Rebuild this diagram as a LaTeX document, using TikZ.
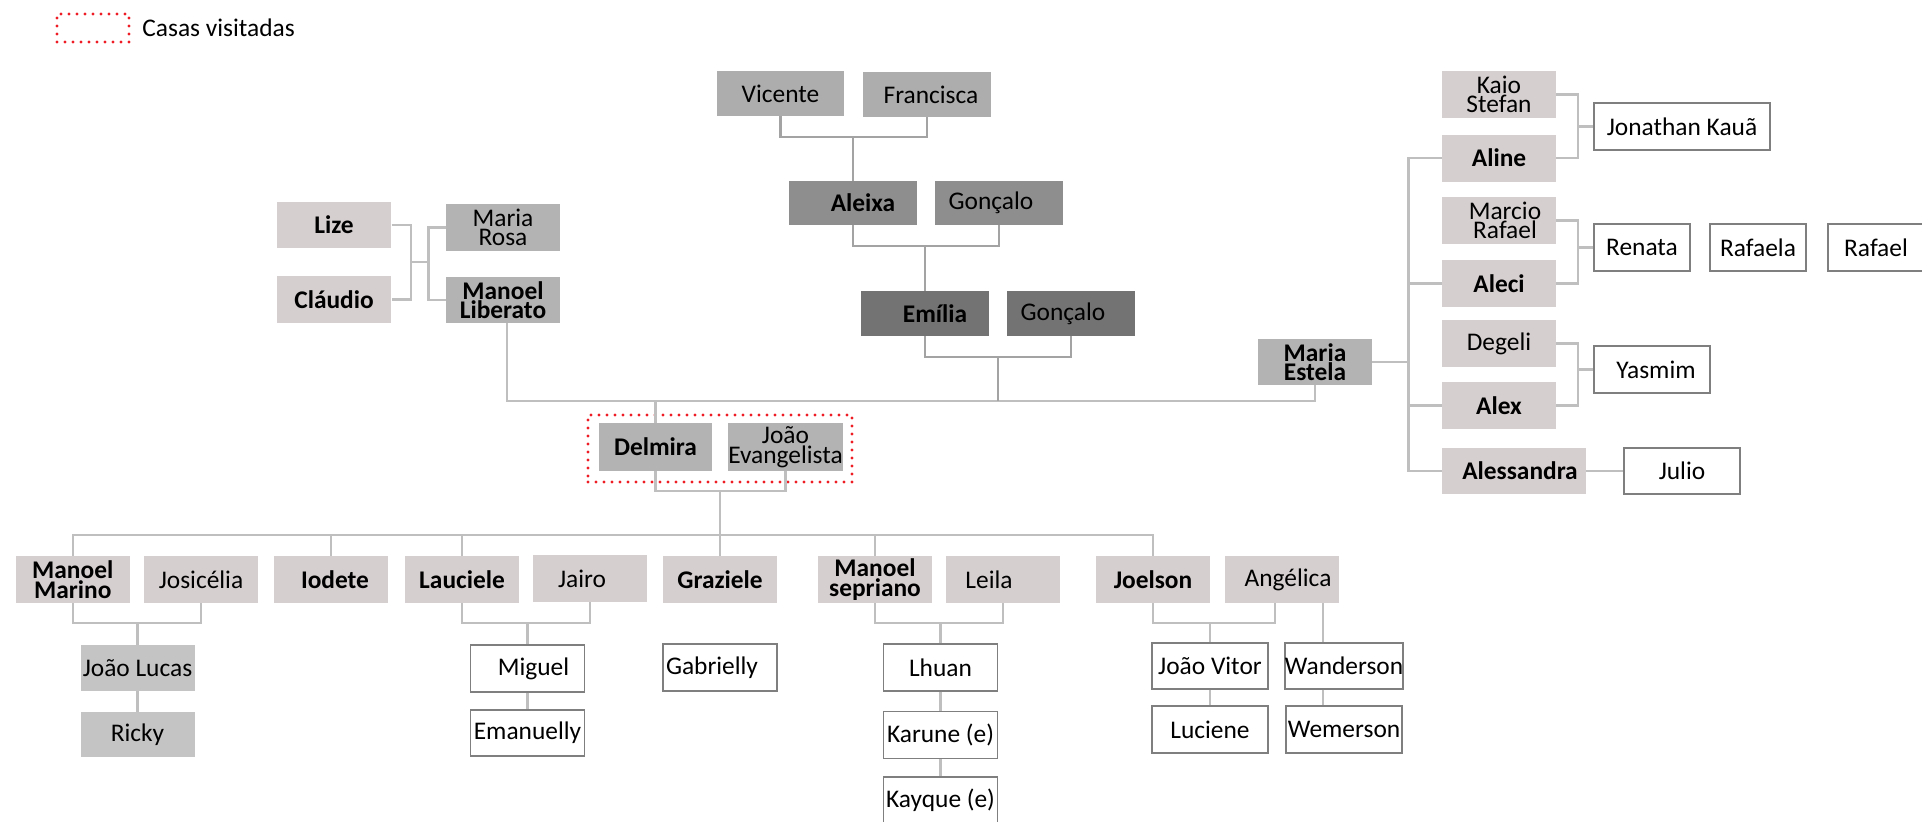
\documentclass[tikz,border=0pt]{standalone}
\usepackage{fontspec}
\setmainfont{Carlito}
\definecolor{pinkgray}{HTML}{D6CFCF}
\definecolor{gB}{HTML}{B3B3B3}
\definecolor{gV}{HTML}{ADADAD}
\definecolor{gA}{HTML}{8E8E8E}
\definecolor{gE}{HTML}{737373}
\definecolor{gJ}{HTML}{C4C4C4}
\definecolor{linegray}{HTML}{BFBFBF}
\definecolor{darkline}{HTML}{A3A3A3}
\definecolor{bordergray}{HTML}{7F7F7F}
\definecolor{dotred}{HTML}{EE1C25}
\begin{document}
\begin{tikzpicture}[x=0.5pt,y=-0.5pt,
  every node/.style={font=\fontsize{12.7}{9.7}\selectfont, align=center, inner sep=0pt, text=black},
  boldtxt/.style={font=\fontsize{12.7}{9.7}\selectfont\bfseries},
  bx/.style={minimum width=57pt, minimum height=23.5pt, anchor=center},
  pk/.style={bx, fill=pinkgray},
  gb/.style={bx, fill=gB},
  wb/.style={bx, fill=white, draw=bordergray, line width=0.7pt},
  ln/.style={draw=linegray, line width=1.25pt},
  dk/.style={draw=darkline, line width=1.3pt},
  dotline/.style={draw=dotred, line width=1.7pt, dash pattern=on 0pt off 4pt, line cap=round}]
\useasboundingbox (0,0) rectangle (1922,821);

% legend
\node[dotline, minimum width=36pt, minimum height=14pt] (leg) at (93,28) {};
\node[anchor=west] (legt) at (142,28) {Casas visitadas};

% left grandparents
\node[pk,boldtxt,minimum width=57.25pt,minimum height=23pt] (lize) at (334,225) {Lize};
\node[pk,boldtxt,minimum width=57.25pt] (claudio) at (334,299.5) {Cláudio};
\node[gb] (mrosa) at (503,227.5) {Maria\\Rosa};
\node[gb,boldtxt,minimum height=23pt] (mlib) at (503,300) {Manoel\\Liberato};

% center ancestors
\node[bx,fill=gV,minimum width=63.5pt,minimum height=22.5pt] (vic) at (780.5,93.5) {Vicente};
\node[bx,fill=gV,minimum width=64pt,minimum height=22.5pt] (fra) at (927,94.5) {\hspace*{4pt}Francisca};
\node[bx,fill=gA,boldtxt,minimum width=64pt,minimum height=22pt] (ale) at (853,203) {\hspace*{10pt}Aleixa};
\node[bx,fill=gA,minimum width=64pt,minimum height=22pt] (gon1) at (999,203) {Gonçalo\hspace*{8pt}};
\node[bx,fill=gE,boldtxt,minimum width=64pt,minimum height=22.5pt] (emi) at (925,313.5) {\hspace*{10pt}Emília};
\node[bx,fill=gE,minimum width=64pt,minimum height=22.5pt] (gon2) at (1071,313.5) {Gonçalo\hspace*{8pt}};

% right family
\node[gb,boldtxt,minimum height=23pt] (mest) at (1315,362) {Maria\\Estela};
\node[pk] (kaio) at (1499,94.5) {Kaio\\Stefan};
\node[pk,boldtxt] (aline) at (1499,158) {Aline};
\node[pk] (marcio) at (1499,220.5) {\hspace*{6pt}Marcio\\\hspace*{6pt}Rafael};
\node[pk,boldtxt] (aleci) at (1499,283.5) {Aleci};
\node[pk] (degeli) at (1499,343.5) {Degeli};
\node[pk,boldtxt] (alex) at (1499,405.5) {Alex};
\node[pk,boldtxt,minimum width=72pt,minimum height=23pt] (aless) at (1514,471) {\hspace*{6pt}Alessandra};
\node[wb,minimum width=88pt] (jon) at (1682,126.5) {Jonathan Kauã};
\node[wb,minimum width=48pt] (renata) at (1642,247.5) {Renata};
\node[wb,minimum width=48pt] (rafaela) at (1758,247.5) {Rafaela};
\node[wb,minimum width=48pt] (rafael) at (1876,247.5) {Rafael};
\node[wb,minimum width=58pt] (yasmim) at (1652,369.5) {\hspace*{4pt}Yasmim};
\node[wb,minimum width=58pt,minimum height=23pt] (julio) at (1682,471) {Julio};

% visited couple
\node[gb,boldtxt,minimum width=56.5pt,minimum height=24pt] (del) at (655.5,447) {Delmira};
\node[gb,minimum width=56.5pt,minimum height=24pt] (je) at (785.5,447) {João\\Evangelista};
\node[dotline,minimum width=132pt,minimum height=33.5pt] (visit) at (720,448.5) {};

% children row
\node[pk,boldtxt] (mmar) at (72.75,579.5) {Manoel\\Marino};
\node[pk] (jos) at (201,579.5) {Josicélia};
\node[pk,boldtxt] (iod) at (331,579.5) {\hspace*{4pt}Iodete};
\node[pk,boldtxt] (lauc) at (462,579.5) {Lauciele};
\node[pk] (jairo) at (590,578.5) {Jairo\hspace*{8pt}};
\node[pk,boldtxt] (graz) at (720,579.5) {Graziele};
\node[pk,boldtxt] (msep) at (875,579.5) {Manoel\\sepriano};
\node[pk] (leila) at (1003,579.5) {Leila\hspace*{14pt}};
\node[pk,boldtxt] (joel) at (1153,579.5) {Joelson};
\node[pk] (ang) at (1282,579.5) {\hspace*{6pt}Angélica};

% grandchildren
\node[bx,fill=gJ,minimum height=23pt] (jl) at (137.5,668) {João Lucas};
\node[bx,fill=gJ,minimum height=22.5pt] (ricky) at (137.5,734.5) {Ricky};
\node[wb] (mig) at (527.5,668.5) {\hspace*{6pt}Miguel};
\node[wb,minimum height=23pt] (ema) at (527.5,733) {Emanuelly};
\node[wb] (gab) at (720,667.5) {Gabrielly\hspace*{8pt}};
\node[wb] (lhu) at (940.5,667.5) {Lhuan};
\node[wb] (kar) at (940.5,735) {Karune (e)};
\node[wb,minimum height=23pt] (kay) at (940.5,800) {Kayque (e)};
\node[wb,minimum width=58pt,minimum height=23pt] (jv) at (1210,666) {João Vitor};
\node[wb,minimum width=58pt] (luc) at (1210,729.5) {Luciene};
\node[wb,minimum width=58pt,minimum height=23pt] (wan) at (1344,666) {Wanderson};
\node[wb,minimum width=58pt] (wem) at (1344,729.5) {Wemerson};

% junction coordinates
\coordinate (lc) at (411,262);
\coordinate (rc) at (428.5,262);
\coordinate (mL) at (507,401);
\coordinate (mR) at (1315,401);
\coordinate (vf) at (853,137);
\coordinate (ag) at (925,246);
\coordinate (eg) at (998,357);
\coordinate (egm) at (998,401);
\coordinate (dm) at (655.5,401);
\coordinate (vb) at (1408.6,300);
\coordinate (k1) at (1578,126.5);
\coordinate (m1) at (1578,247.5);
\coordinate (d1) at (1578,369.5);
\coordinate (dj) at (720,491);
\coordinate (ch) at (720,535);
\coordinate (mj1) at (137.5,623);
\coordinate (lj) at (527.5,623);
\coordinate (ml) at (940.5,623);
\coordinate (ja) at (1210,623);
\coordinate (wx) at (1323,600);
\coordinate (angj) at (1275,600);

% left side
\draw[ln] (lize.east) -| (lc) |- (claudio.east);
\draw[ln] (lc) -- (rc);
\draw[ln] (mrosa.west) -| (rc) |- (mlib.west);
\draw[ln] (mlib.south -| mL) -- (mL) -- (mR) -- (mest.south);
\draw[ln] (dm) -- (del.north);

% center ancestors
\draw[dk] (vic.south) |- (vf) -| (fra.south);
\draw[dk] (vf) -- (ale.north);
\draw[dk] (ale.south) |- (ag) -| (gon1.south);
\draw[dk] (ag) -- (emi.north);
\draw[dk] (emi.south) |- (eg) -| (gon2.south);
\draw[dk] (eg) -- (egm);

% right side
\draw[ln] (mest.east) -- (mest.east -| vb);
\draw[ln] (aline.west) -| (vb) |- (aless.west);
\draw[ln] (aleci.west) -- (aleci.west -| vb);
\draw[ln] (alex.west) -- (alex.west -| vb);
\draw[ln] (kaio.east) -| (k1) |- (aline.east);
\draw[ln] (k1) -- (jon.west);
\draw[ln] (marcio.east) -| (m1) |- (aleci.east);
\draw[ln] (m1) -- (renata.west);
\draw[ln] (degeli.east) -| (d1) |- (alex.east);
\draw[ln] (d1) -- (yasmim.west);
\draw[ln] (aless.east) -- (julio.west);

% couple and children
\draw[ln] (del.south) |- (dj) -| (je.south);
\draw[ln] (dj) -- (graz.north);
\draw[ln] (mmar.north) |- (ch) -| (joel.north);
\draw[ln] (iod.north) -- (iod.north |- ch);
\draw[ln] (lauc.north) -- (lauc.north |- ch);
\draw[ln] (msep.north) -- (msep.north |- ch);

\draw[ln] (mmar.south) |- (mj1) -| (jos.south);
\draw[ln] (mj1) -- (jl.north);
\draw[ln] (jl) -- (ricky);
\draw[ln] (lauc.south) |- (lj) -| (jairo.south);
\draw[ln] (lj) -- (mig.north);
\draw[ln] (mig) -- (ema);
\draw[ln] (msep.south) |- (ml) -| (leila.south);
\draw[ln] (ml) -- (lhu.north);
\draw[ln] (lhu) -- (kar);
\draw[ln] (kar) -- (kay);
\draw[ln] (joel.south) |- (ja) -| (ang.south -| angj);
\draw[ln] (ja) -- (jv.north);
\draw[ln] (jv) -- (luc);
\draw[ln] (ang.south -| wx) -- (wan.north -| wx);
\draw[ln] (wan.south -| wx) -- (wem.north -| wx);
\end{tikzpicture}
\end{document}
